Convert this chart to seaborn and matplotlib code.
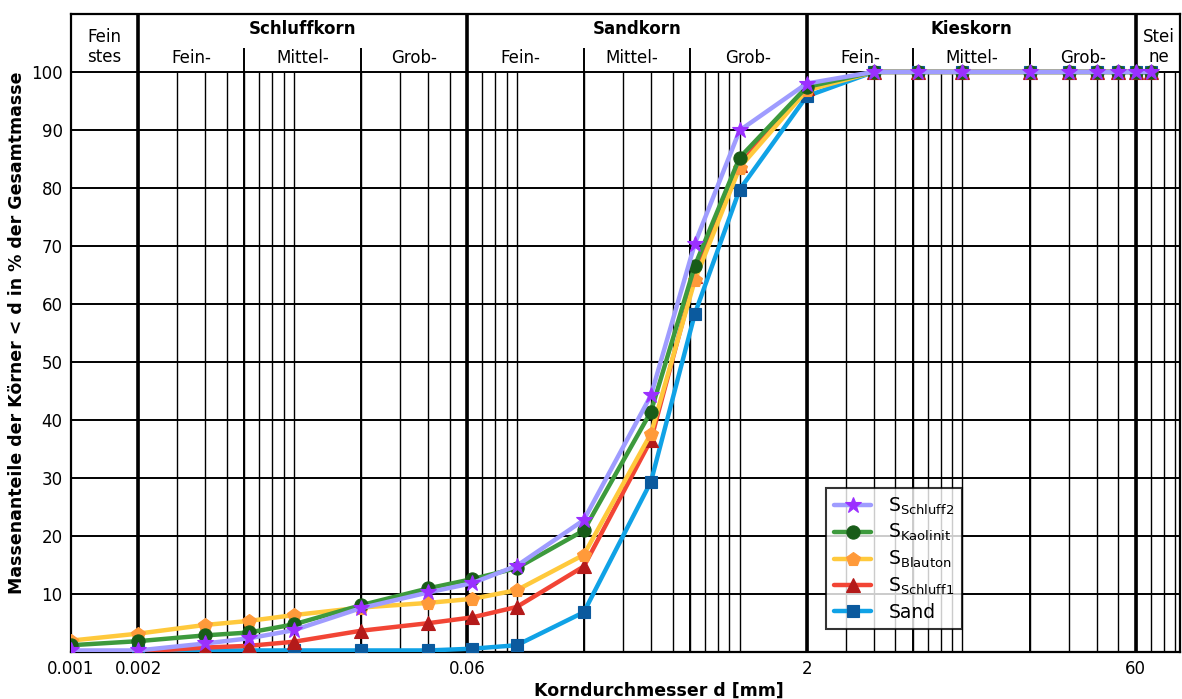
import numpy as np
import pandas as pd
import matplotlib
matplotlib.use("Agg")
import matplotlib.pyplot as plt
from matplotlib.ticker import LogLocator, FixedLocator, FixedFormatter, NullLocator
import seaborn as sns

# ---------------- data ----------------
d_full = [0.001, 0.002, 0.004, 0.0063, 0.01, 0.02, 0.04, 0.063, 0.1, 0.2, 0.4, 0.63,
          1, 2, 4, 6.3, 10, 20, 30, 40, 50, 60, 70]
d_red = d_full[1:]
d_sand = [0.002, 0.01, 0.02, 0.04, 0.063, 0.1, 0.2, 0.4, 0.63,
          1, 2, 4, 6.3, 10, 20, 30, 40, 50, 60, 70]

plateau = [100] * 9
schluff2 = [0.2, 0.2, 1.4, 2.3, 3.7, 7.5, 10.2, 11.8, 14.8, 22.7, 44.2, 70.4, 89.9, 98.0] + plateau
kaolinit = [1.1, 1.8, 2.8, 3.3, 4.7, 8.0, 10.9, 12.5, 14.4, 20.9, 41.4, 66.6, 85.2, 97.4] + plateau
blauton = [1.9, 3.1, 4.6, 5.3, 6.3, 7.6, 8.4, 9.1, 10.6, 16.7, 37.6, 64.1, 83.5, 96.8] + plateau
schluff1 = [0.0, 0.7, 1.0, 1.7, 3.6, 4.9, 5.9, 7.7, 14.7, 36.5, 64.8, 84.0, 97.2] + plateau
sand = [0.2, 0.2, 0.2, 0.2, 0.5, 1.1, 6.8, 29.3, 58.3, 79.7, 95.8] + plateau

series_names = [r"S$_{\mathregular{Schluff2}}$", r"S$_{\mathregular{Kaolinit}}$",
                r"S$_{\mathregular{Blauton}}$", r"S$_{\mathregular{Schluff1}}$", "Sand"]

# fraction boundaries (mm)
main_bounds = [0.002, 0.06, 2, 60]
sub_bounds = [0.006, 0.02, 0.2, 0.6, 6, 20]
main_labels = ["Schluffkorn", "Sandkorn", "Kieskorn"]
sub_labels = ["Fein-", "Mittel-", "Grob-"]
x_tick_vals = [0.001, 0.002, 0.06, 2, 60]
x_tick_labels = ["0.001", "0.002", "0.06", "2", "60"]
y_ticks = [10, 20, 30, 40, 50, 60, 70, 80, 90, 100]

# ---------------- style ----------------
sns.set_theme(style="white")
plt.rcParams['font.family'] = ['DejaVu Sans']
plt.rcParams['mathtext.default'] = 'regular'
plt.rcParams['text.color'] = 'black'
plt.rcParams['axes.labelcolor'] = 'black'

fig = plt.figure(figsize=(11.82, 6.99), dpi=100)
ax = fig.add_axes([0.0601, 0.0678, 0.9385, 0.9122])

xmin, xmax = 0.001, 95
ymin, ymax = 0, 110
ax.set_xscale("log")
ax.set_xlim(xmin, xmax)
ax.set_ylim(ymin, ymax)

# minor grid (vertical) up to 100
loc = LogLocator(base=10, subs=np.arange(1, 10))
vx = [v for v in loc.tick_values(xmin, xmax) if xmin < v < xmax]
ax.vlines(vx, 0, 100, color="black", lw=1.0, zorder=1)
# sub boundaries up into header
ax.vlines(sub_bounds, 0, 104.2, color="black", lw=1.4, zorder=1)
# main boundaries full height
ax.vlines(main_bounds, 0, 110, color="black", lw=2.6, zorder=1)
# horizontal grid
ax.hlines(y_ticks, xmin, xmax, color="black", lw=1.4, zorder=1)

# ---------------- series ----------------
specs = [
    ("Sand", d_sand, sand, "#10a2e6", "#0b5a9e", "s", 9),
    (series_names[3], d_red, schluff1, "#f24535", "#b41a1a", "^", 9.5),
    (series_names[2], d_full, blauton, "#ffc93c", "#ff9a3a", "p", 10),
    (series_names[1], d_full, kaolinit, "#3d9a3d", "#185c18", "o", 9.5),
    (series_names[0], d_full, schluff2, "#9f9cff", "#9b30ff", "*", 12),
]
handles = {}
for name, xs, ys, lc, mc, mk, ms in specs:
    df = pd.DataFrame({"d": xs, "p": ys})
    sns.lineplot(data=df, x="d", y="p", ax=ax, color=lc, lw=3.2, marker=mk,
                 markersize=ms, markerfacecolor=mc, markeredgecolor=mc,
                 markeredgewidth=0.8, estimator=None, sort=False, zorder=3,
                 label=name)
    handles[name] = ax.get_lines()[-1]

# ---------------- header ----------------
gm = lambda a, b: np.sqrt(a * b)
ax.text(gm(xmin, 0.002), 104.3, "Fein\nstes", ha="center", va="center", fontsize=12,
        linespacing=1.15)
ax.text(76, 104.3, "Stei\nne", ha="center", va="center", fontsize=12,
        linespacing=1.15)
for i, lab in enumerate(main_labels):
    a, b = main_bounds[i], main_bounds[i + 1]
    ax.text(gm(a, b), 107.4, lab, ha="center", va="center", fontsize=12, fontweight="bold")
    sb = [a, a * 3, a * 10, b]
    for j, sl in enumerate(sub_labels):
        ax.text(gm(sb[j], sb[j + 1]), 102.4, sl, ha="center", va="center", fontsize=12)

# ---------------- axes ----------------
ax.xaxis.set_major_locator(FixedLocator(x_tick_vals))
ax.xaxis.set_major_formatter(FixedFormatter(x_tick_labels))
ax.xaxis.set_minor_locator(NullLocator())
ax.set_yticks(y_ticks)
ax.tick_params(axis="both", length=0, labelsize=12, pad=6, colors="black")
ax.set_xlabel("Korndurchmesser d [mm]", fontsize=12.5, fontweight="bold")
ax.set_ylabel("Massenanteile der Körner < d in % der Gesamtmasse", fontsize=12.5,
              fontweight="bold", labelpad=4)
ax.xaxis.set_label_coords(0.53, -0.047)
for s in ax.spines.values():
    s.set_color("black")
    s.set_linewidth(1.6)
ax.grid(False)

order = [series_names[0], series_names[1], series_names[2], series_names[3], "Sand"]
leg = ax.legend([handles[n] for n in order], order, loc="upper left",
                bbox_to_anchor=(0.681, 0.257), fontsize=13.5, frameon=True, fancybox=False,
                borderpad=0.4, labelspacing=0.3, handlelength=2.0, handletextpad=0.9,
                borderaxespad=0)
leg.get_frame().set_edgecolor("black")
leg.get_frame().set_linewidth(1.5)
leg.set_zorder(5)

fig.savefig("out.png", dpi=100)
